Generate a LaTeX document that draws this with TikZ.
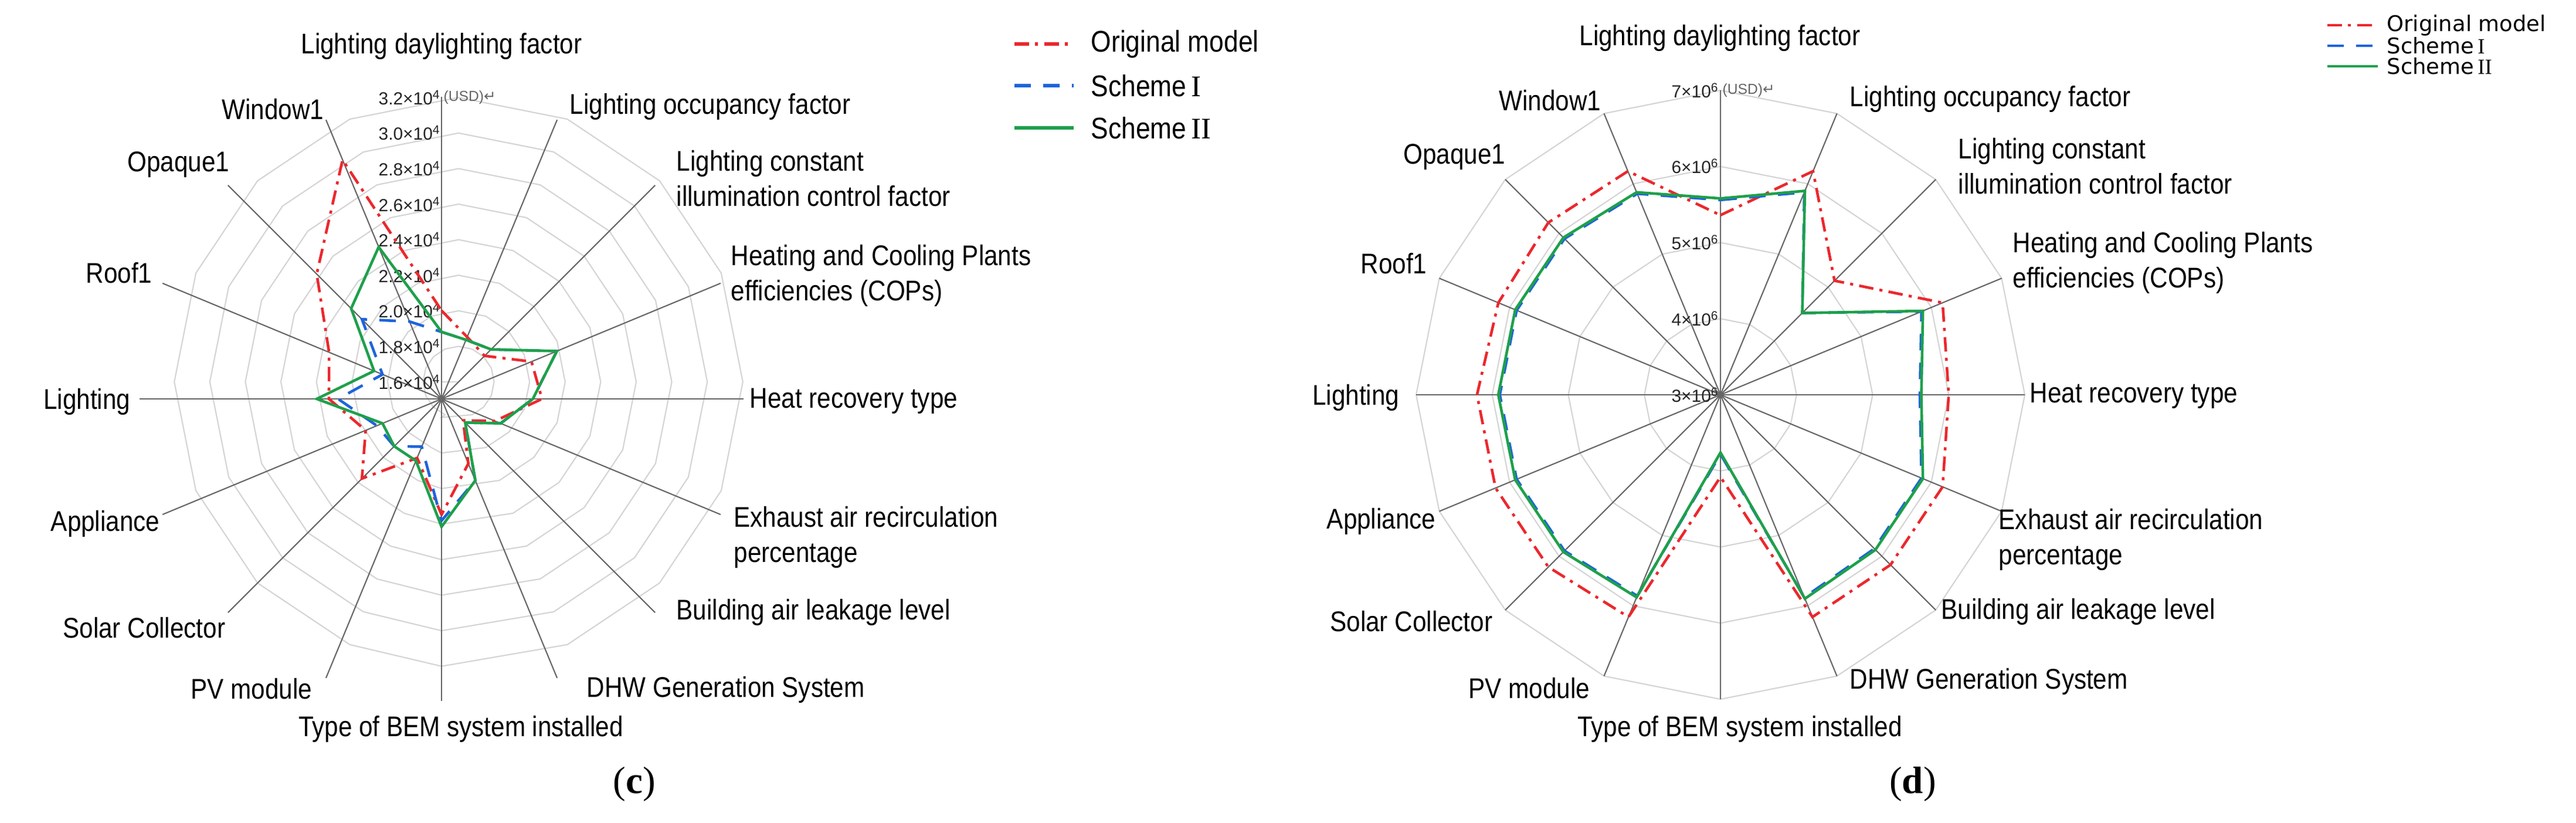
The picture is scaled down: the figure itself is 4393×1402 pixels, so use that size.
\documentclass[tikz,border=0pt]{standalone}
\usepackage{fontspec}
\setmainfont{Liberation Sans}
\newfontfamily\labfont{Liberation Sans}[FakeStretch=0.87]
\newfontfamily\tnr{Liberation Serif}
\newfontfamily\dvs{DejaVu Sans}
\definecolor{cred}{RGB}{235,40,45}
\definecolor{cblue}{RGB}{30,100,220}
\definecolor{cgreen}{RGB}{30,160,75}
\newcommand\rdrseries[6]{% style, cx, cy, R, f0, rest
  \draw[#1] ({#2},{#3-#5*#4}) \foreach \f [count=\k] in {#6}{ -- ({#2+\f*#4*sin(22.5*\k)},{#3-\f*#4*cos(22.5*\k)})} -- cycle;}
\newcommand\rdrring[4]{% style, cx, cy, r
  \draw[#1] ({#2},{#3-#4}) \foreach \k in {1,...,15}{ -- ({#2+#4*sin(22.5*\k)},{#3-#4*cos(22.5*\k)})} -- cycle;}
\begin{document}
\begin{tikzpicture}[x=0.01cm,y=-0.01cm,
 lab/.style={font=\labfont\fontsize{13.8}{17}\selectfont, inner sep=0pt, align=left},
 tick/.style={font=\fontsize{8.5}{10}\selectfont, inner sep=0pt, text=black!85},
 usd/.style={font=\fontsize{7}{8}\selectfont, inner sep=0pt, text=black!60},
 spoke/.style={draw=black!60, line width=0.6pt},
 ring/.style={draw=black!17, line width=0.6pt},
 orig/.style={draw=cred, line width=1.3pt, dash pattern=on 7pt off 3pt on 1.5pt off 3pt},
 s1/.style={draw=cblue, line width=1.3pt, dash pattern=on 8pt off 6pt},
 s2/.style={draw=cgreen, line width=1.3pt},
 leg/.style={font=\labfont\fontsize{14.5}{17}\selectfont, inner sep=0pt, anchor=west},
 legd/.style={font=\dvs\fontsize{10.5}{12}\selectfont, inner sep=0pt, anchor=west},
 sub/.style={font=\tnr\fontsize{18.5}{22}\selectfont, inner sep=0pt}]
\path[use as bounding box] (0,0) rectangle (4393,1402);
\fill[white] (0,0) rectangle (4393,1402);

%% ---------------- chart (c) ----------------
\foreach \i in {0,...,8}{ \rdrring{ring}{753}{680}{29+60.6*\i} }
\foreach \k in {0,...,15}{ \draw[spoke] (753,680) -- ({753+515*sin(22.5*\k)},{680-515*cos(22.5*\k)}); }
\foreach \v [count=\i from 0] in {1.6,1.8,2.0,2.2,2.4,2.6,2.8,3.0,3.2}{
  \node[tick, anchor=east] (ct\i) at (752,{680-29-60.6*\i}) {\v×10\textsuperscript{4}}; }
\node[usd, anchor=west] (cusd) at (756,166) {(USD)\dvs ↵};
\rdrseries{orig}{753}{680}{519}{0.29}{0.22,0.2,0.32,0.33,0.19,0.1,0.23,0.38,0.21,0.37,0.27,0.37,0.4,0.58,0.85}
\rdrseries{s1}{753}{680}{519}{0.22}{0.21,0.23,0.41,0.30,0.21,0.11,0.29,0.40,0.17,0.22,0.23,0.34,0.21,0.37,0.275}
\rdrseries{s2}{753}{680}{519}{0.22}{0.21,0.23,0.41,0.30,0.21,0.11,0.29,0.42,0.22,0.22,0.21,0.41,0.24,0.42,0.54}

\node[lab] (c0) at (753,79) {Lighting daylighting factor};
\node[lab, anchor=west] (c1) at (971,182) {Lighting occupancy factor};
\node[lab, anchor=west] (c2) at (1153,304) {Lighting constant\\illumination control factor};
\node[lab, anchor=west] (c3) at (1246,470) {Heating and Cooling Plants\\efficiencies (COPs)};
\node[lab, anchor=west] (c4) at (1278,684) {Heat recovery type};
\node[lab, anchor=west] (c5) at (1251,916) {Exhaust air recirculation\\percentage};
\node[lab, anchor=west] (c6) at (1153,1044) {Building air leakage level};
\node[lab, anchor=west] (c7) at (1000,1176) {DHW Generation System};
\node[lab] (c8) at (786,1243) {Type of BEM system installed};
\node[lab, anchor=east] (c9) at (533,1174) {PV module};
\node[lab, anchor=east] (c10) at (385,1070) {Solar Collector};
\node[lab, anchor=east] (c11) at (273,893) {Appliance};
\node[lab, anchor=east] (c12) at (223,685) {Lighting};
\node[lab, anchor=east] (c13) at (260,465) {Roof1};
\node[lab, anchor=east] (c14) at (392,281) {Opaque1};
\node[lab, anchor=east] (c15) at (553,186) {Window1};
\node[sub] (csub) at (1082,1337) {(\textbf{c})};

\coordinate (cla) at (1730,75); \coordinate (clb) at (1831,75);
\coordinate (cma) at (1730,146); \coordinate (cmb) at (1831,146);
\coordinate (cna) at (1730,218); \coordinate (cnb) at (1831,218);
\draw[orig, line width=1.6pt] (cla) -- (clb); \draw[s1, line width=1.6pt] (cma) -- (cmb); \draw[s2, line width=1.8pt] (cna) -- (cnb);
\node[leg] (cl1) at (1860,75) {Original model};
\node[leg] (cl2) at (1860,146) {Scheme\,{\tnr I}};
\node[leg] (cl3) at (1860,218) {Scheme\,{\tnr II}};

%% ---------------- chart (d) ----------------
\foreach \i in {1,...,4}{ \rdrring{ring}{2934}{673}{129.75*\i} }
\foreach \k in {0,...,15}{ \draw[spoke] (2934,673) -- ({2934+519*sin(22.5*\k)},{673-519*cos(22.5*\k)}); }
\foreach \v [count=\i from 0] in {3,4,5,6,7}{
  \node[tick, anchor=east] (dt\i) at (2932,{673-129.75*\i}) {\v×10\textsuperscript{6}}; }
\node[usd, anchor=west] (dusd) at (2937,154) {(USD)\dvs ↵};
\rdrseries{orig}{2934}{673}{519}{0.59}{0.795,0.53,0.79,0.75,0.79,0.79,0.79,0.27,0.79,0.80,0.80,0.80,0.79,0.80,0.795}
\rdrseries{s1}{2934}{673}{519}{0.64}{0.72,0.38,0.715,0.655,0.715,0.715,0.72,0.195,0.715,0.725,0.725,0.725,0.725,0.725,0.715}
\rdrseries{s2}{2934}{673}{519}{0.645}{0.725,0.38,0.72,0.66,0.72,0.72,0.725,0.19,0.72,0.73,0.73,0.73,0.73,0.73,0.72}

\node[lab] (d0) at (2933,65) {Lighting daylighting factor};
\node[lab, anchor=west] (d1) at (3154,169) {Lighting occupancy factor};
\node[lab, anchor=west] (d2) at (3339,283) {Lighting constant\\illumination control factor};
\node[lab, anchor=west] (d3) at (3432,448) {Heating and Cooling Plants\\efficiencies (COPs)};
\node[lab, anchor=west] (d4) at (3461,675) {Heat recovery type};
\node[lab, anchor=west] (d5) at (3408,920) {Exhaust air recirculation\\percentage};
\node[lab, anchor=west] (d6) at (3310,1043) {Building air leakage level};
\node[lab, anchor=west] (d7) at (3154,1162) {DHW Generation System};
\node[lab] (d8) at (2967,1243) {Type of BEM system installed};
\node[lab, anchor=east] (d9) at (2712,1173) {PV module};
\node[lab, anchor=east] (d10) at (2546,1059) {Solar Collector};
\node[lab, anchor=east] (d11) at (2449,889) {Appliance};
\node[lab, anchor=east] (d12) at (2387,678) {Lighting};
\node[lab, anchor=east] (d13) at (2434,449) {Roof1};
\node[lab, anchor=east] (d14) at (2568,268) {Opaque1};
\node[lab, anchor=east] (d15) at (2731,171) {Window1};
\node[sub] (dsub) at (3262,1337) {(\textbf{d})};

\coordinate (dla) at (3969,43); \coordinate (dlb) at (4055,43);
\coordinate (dma) at (3969,78); \coordinate (dmb) at (4055,78);
\coordinate (dna) at (3969,113); \coordinate (dnb) at (4055,113);
\draw[orig, line width=0.9pt] (dla) -- (dlb); \draw[s1, line width=0.9pt] (dma) -- (dmb); \draw[s2, line width=0.9pt] (dna) -- (dnb);
\node[legd] (dl1) at (4070,43) {Original model};
\node[legd] (dl2) at (4070,78) {Scheme\,{\tnr I}};
\node[legd] (dl3) at (4070,113) {Scheme\,{\tnr II}};
\end{tikzpicture}
\end{document}
